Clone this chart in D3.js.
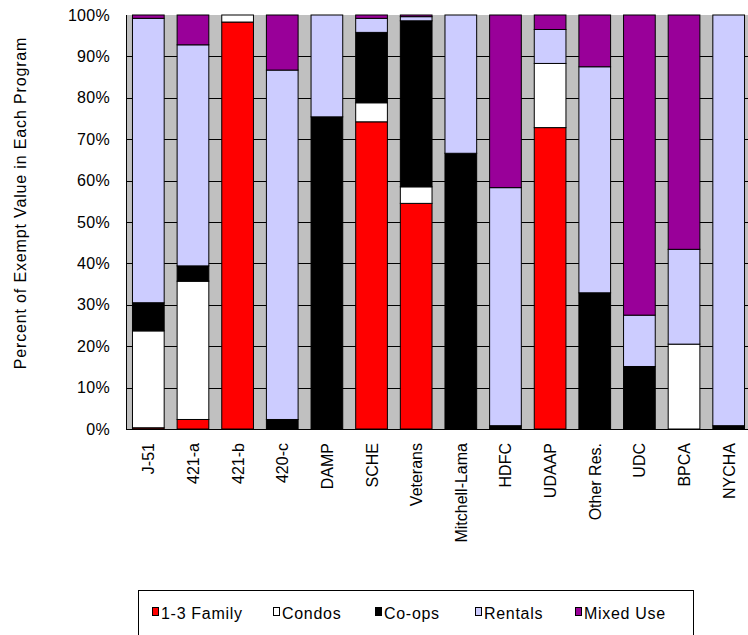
<!DOCTYPE html>
<html>
<head>
<meta charset="utf-8">
<script src="https://cdn.jsdelivr.net/npm/d3@7"></script>
<style>
  html, body { margin: 0; padding: 0; background: #fff; }
  svg { display: block; }
  svg text { font-family: "Liberation Sans", Arial, Helvetica, sans-serif; fill: #000; }
</style>
</head>
<body>
<svg id="chart" width="748" height="635"></svg>
<script>
const categories = ["J-51","421-a","421-b","420-c","DAMP","SCHE","Veterans","Mitchell-Lama","HDFC","UDAAP","Other Res.","UDC","BPCA","NYCHA"];
const family  = [0.3, 2.3, 98.3, 0,    0,    74.2, 54.5, 0,    0,    72.8, 0,    0,    0,    0];
const condos  = [23.4, 33.4, 1.7, 0,    0,    4.6,  4.0,  0,    0,    15.5, 0,    0,    20.5, 0];
const coops   = [6.8, 3.7,  0,    2.3,  75.4, 17.0, 40.1, 66.6, 0.8,  0,    32.9, 15.1, 0,    0.8];
const rentals = [68.7, 53.4, 0,   84.4, 24.6, 3.4,  1.0,  33.4, 57.5, 8.2,  54.6, 12.4, 22.9, 99.2];
const mixed   = [0.8, 7.2,  0,    13.3, 0,    0.8,  0.4,  0,    41.7, 3.5,  12.5, 72.5, 56.6, 0];
const seriesNames = ["1-3 Family","Condos","Co-ops","Rentals","Mixed Use"];
const seriesColors = ["#FF0000","#FFFFFF","#000000","#CCCCFF","#990099"];
const yTicks = [0,10,20,30,40,50,60,70,80,90,100];

const seriesValues = [family, condos, coops, rentals, mixed];
const rows = categories.map((c, i) => {
  const r = { cat: c };
  seriesNames.forEach((s, j) => r[s] = seriesValues[j][i]);
  return r;
});

const FONT = '"Liberation Sans", Arial, Helvetica, sans-serif';
const svg = d3.select("#chart");
const pLeft = 126, pRight = 751, pTop = 15, pBottom = 429;

const x = d3.scaleBand().domain(categories).range([pLeft, pRight])
  .paddingInner(0.29).paddingOuter(0.145);
const y = d3.scaleLinear().domain([0, 100]).range([pBottom, pTop]);

// plot background
svg.append("rect").attr("x", pLeft).attr("y", pTop)
  .attr("width", pRight - pLeft).attr("height", pBottom - pTop)
  .attr("fill", "#C0C0C0");

// gridlines
svg.append("g").selectAll("line").data(yTicks.filter(d => d > 0 && d < 100)).join("line")
  .attr("x1", pLeft).attr("x2", pRight)
  .attr("y1", d => Math.round(y(d)) + 0.5).attr("y2", d => Math.round(y(d)) + 0.5)
  .attr("stroke", "#000").attr("stroke-width", 1);

// stacked bars
const stacked = d3.stack().keys(seriesNames)(rows);
const g = svg.append("g");
stacked.forEach((layer, j) => {
  g.append("g").selectAll("rect")
    .data(layer.filter(d => d[1] - d[0] > 0))
    .join("rect")
    .attr("x", d => x(d.data.cat))
    .attr("width", x.bandwidth())
    .attr("y", d => y(d[1]))
    .attr("height", d => y(d[0]) - y(d[1]))
    .attr("fill", seriesColors[j])
    .attr("stroke", "#000")
    .attr("stroke-width", 1);
});

// axis lines
svg.append("line").attr("x1", pLeft + 0.5).attr("x2", pLeft + 0.5)
  .attr("y1", pTop).attr("y2", pBottom + 0.5).attr("stroke", "#000");
svg.append("line").attr("x1", pLeft).attr("x2", pRight)
  .attr("y1", pBottom + 0.5).attr("y2", pBottom + 0.5).attr("stroke", "#000");

// y axis labels
const yAxis = d3.axisLeft(y).tickValues(yTicks).tickFormat(d => d + "%").tickSize(0).tickPadding(16);
const ya = svg.append("g").attr("transform", `translate(${pLeft},0)`).call(yAxis);
ya.select(".domain").remove();
ya.attr("font-family", FONT).attr("font-size", 16);
ya.selectAll("text").style("letter-spacing", "0.3px").attr("fill", "#000");

// x axis labels
const xAxis = d3.axisBottom(x).tickSize(0).tickPadding(0);
const xa = svg.append("g").attr("transform", `translate(0,${pBottom})`).call(xAxis);
xa.select(".domain").remove();
xa.attr("font-family", FONT).attr("font-size", 16);
xa.selectAll("text")
  .attr("fill", "#000")
  .attr("text-anchor", "end")
  .attr("dy", null)
  .attr("y", 0)
  .attr("transform", "translate(6,14) rotate(-90)");

// y axis title
svg.append("text")
  .attr("transform", "translate(26,203) rotate(-90)")
  .attr("text-anchor", "middle")
  .attr("font-family", FONT)
  .attr("font-size", 16).style("letter-spacing", "0.85px")
  .text("Percent of Exempt Value in Each Program");

// legend
svg.append("rect").attr("x", 138.5).attr("y", 590.5).attr("width", 555).attr("height", 60)
  .attr("fill", "#fff").attr("stroke", "#000").attr("stroke-width", 1);
const legendX = [152, 273, 375, 475, 575];
const lg = svg.append("g").attr("font-family", FONT).attr("font-size", 16)
  .selectAll("g").data(seriesNames).join("g")
  .attr("transform", (d, i) => `translate(${legendX[i]},0)`);
lg.append("rect").attr("x", 0.5).attr("y", 607.5).attr("width", 6).attr("height", 8)
  .attr("fill", (d, i) => seriesColors[i]).attr("stroke", "#000");
lg.append("text").attr("x", 9).attr("y", 619)
  .style("letter-spacing", "0.7px")
  .text(d => d);
</script>
</body>
</html>
